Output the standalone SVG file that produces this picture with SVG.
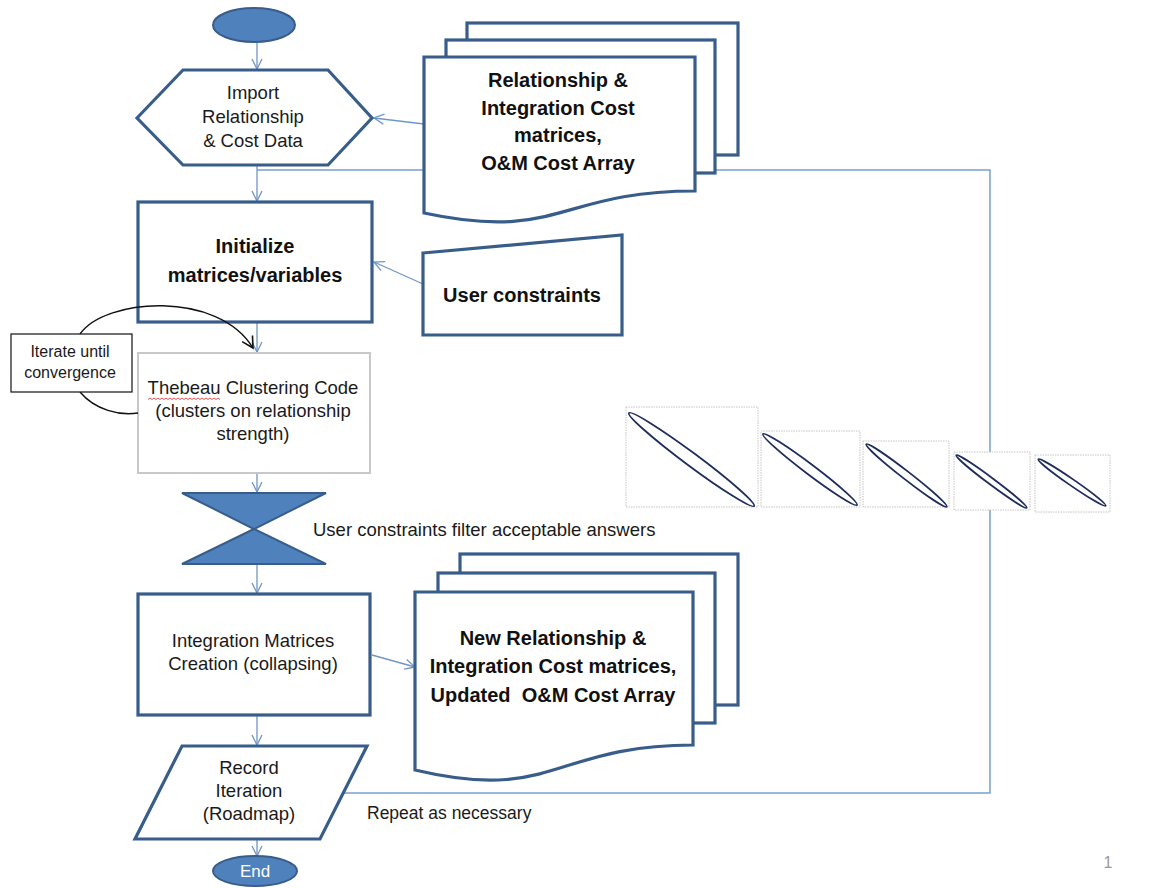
<svg xmlns="http://www.w3.org/2000/svg" width="1149" height="888" viewBox="0 0 1149 888">
<style>
.shape{fill:#fff;stroke:#385d8a;stroke-width:3.2;stroke-linejoin:miter}
.fillb{fill:#4f81bd;stroke:#385d8a;stroke-width:2}
.conn{fill:none;stroke:#6f96c8;stroke-width:1.3}
.loop{fill:none;stroke:#7aa0d0;stroke-width:1.5}
.t{font-family:"Liberation Sans",Arial,sans-serif;font-size:18.5px;fill:#1a1a1a;text-anchor:middle}
.b{font-weight:bold;font-size:20px;fill:#111}
.thumb{fill:#fff;stroke:#c4c4c4;stroke-width:1;stroke-dasharray:1.5 1}
.diag{fill:none;stroke:#1f2d5c;stroke-width:1.8}
</style>
<defs>
<marker id="arr" viewBox="0 0 12 12" refX="11" refY="6" markerWidth="12" markerHeight="12" markerUnits="userSpaceOnUse" orient="auto">
<path d="M1,1 L11,6 L1,11" fill="none" stroke="#6f96c8" stroke-width="1.3"/>
</marker>
<marker id="arrk" viewBox="0 0 14 14" refX="12" refY="7" markerWidth="14" markerHeight="14" markerUnits="userSpaceOnUse" orient="auto">
<path d="M1,1 L12,7 L1,13" fill="none" stroke="#111" stroke-width="1.6"/>
</marker>
</defs>
<rect width="1149" height="888" fill="#fff"/>

<g id="connectors">
<polyline class="loop" points="343,793 990,793 990,170 257,170"/>
<line class="conn" x1="257" y1="42" x2="257" y2="69" marker-end="url(#arr)"/>
<line class="conn" x1="257" y1="166" x2="257" y2="201" marker-end="url(#arr)"/>
<line class="conn" x1="424" y1="124" x2="374" y2="118" marker-end="url(#arr)"/>
<line class="conn" x1="423" y1="284" x2="374" y2="262" marker-end="url(#arr)"/>
<line class="conn" x1="257" y1="323" x2="257" y2="352" marker-end="url(#arr)"/>
<line class="conn" x1="257" y1="474" x2="257" y2="492" marker-end="url(#arr)"/>
<line class="conn" x1="257" y1="565" x2="257" y2="593" marker-end="url(#arr)"/>
<line class="conn" x1="372" y1="655" x2="415" y2="667" marker-end="url(#arr)"/>
<line class="conn" x1="257" y1="716" x2="257" y2="745" marker-end="url(#arr)"/>
<line class="conn" x1="257" y1="840" x2="257" y2="856" marker-end="url(#arr)"/>
</g>

<g id="thumbnails">
<rect class="thumb" x="626" y="407" width="132" height="100"/>
<ellipse class="diag" cx="691.5" cy="459.5" rx="78" ry="6.5" transform="rotate(36.65 691.5 459.5)"/>
<rect class="thumb" x="761" y="431" width="99" height="76"/>
<ellipse class="diag" cx="810" cy="469.5" rx="59" ry="5" transform="rotate(37.06 810 469.5)"/>
<rect class="thumb" x="863" y="441" width="86" height="66"/>
<ellipse class="diag" cx="906.5" cy="475.5" rx="51" ry="4" transform="rotate(37.87 906.5 475.5)"/>
<rect class="thumb" x="954" y="452" width="76" height="58" stroke="#e0e0e0"/>
<ellipse class="diag" cx="991.5" cy="481.5" rx="44" ry="3.2" transform="rotate(36.74 991.5 481.5)"/>
<rect class="thumb" x="1035" y="455" width="75" height="57" stroke="#e6e6e6"/>
<ellipse class="diag" cx="1072" cy="482.5" rx="41" ry="3.2" transform="rotate(34.65 1072 482.5)"/>
</g>

<g id="start">
<ellipse class="fillb" cx="254" cy="25" rx="41" ry="17"/>
</g>

<g id="import">
<polygon class="shape" points="137,118 183,70 328,70 372,118 328,165 183,165"/>
<text class="t" x="253" y="99">Import</text>
<text class="t" x="253" y="123">Relationship</text>
<text class="t" x="253" y="147">&amp; Cost Data</text>
</g>

<g id="docs-top">
<rect class="shape" x="467" y="23" width="271" height="132"/>
<rect class="shape" x="446" y="40" width="269" height="133"/>
<path class="shape" d="M424,57 H695 V191 C559.5,191 559.5,242 424,213 Z"/>
<text class="t b" x="558" y="87">Relationship &amp;</text>
<text class="t b" x="558" y="115">Integration Cost</text>
<text class="t b" x="558" y="142">matrices,</text>
<text class="t b" x="558" y="170">O&amp;M Cost Array</text>
</g>

<g id="initialize">
<rect class="shape" x="138" y="202" width="234" height="120"/>
<text class="t b" x="255" y="253">Initialize</text>
<text class="t b" x="255" y="282">matrices/variables</text>
</g>

<g id="user-constraints">
<polygon class="shape" points="423,253 622,235 622,335 423,335"/>
<text class="t b" x="522" y="302">User constraints</text>
</g>

<g id="thebeau">
<rect x="138" y="353" width="232" height="120" fill="#fff" stroke="#c8c8c8" stroke-width="2"/>
<text class="t" x="253" y="394">Thebeau Clustering Code</text>
<text class="t" x="253" y="417">(clusters on relationship</text>
<text class="t" x="253" y="440">strength)</text>
<path d="M148,399.5 l2,-1.5 l2,1.5 l2,-1.5 l2,1.5 l2,-1.5 l2,1.5 l2,-1.5 l2,1.5 l2,-1.5 l2,1.5 l2,-1.5 l2,1.5 l2,-1.5 l2,1.5 l2,-1.5 l2,1.5 l2,-1.5 l2,1.5 l2,-1.5 l2,1.5 l2,-1.5 l2,1.5 l2,-1.5 l2,1.5 l2,-1.5 l2,1.5 l2,-1.5 l2,1.5 l2,-1.5 l2,1.5 l2,-1.5 l2,1.5 l2,-1.5 l2,1.5 l2,-1.5 l2,1.5" fill="none" stroke="#e04040" stroke-width="0.9"/>
</g>

<g id="iterate-loop">
<path d="M80,334 C105,298 218,290 253,348" fill="none" stroke="#111" stroke-width="1.4" marker-end="url(#arrk)"/>
<path d="M80,392 C95,410 120,416 138,413" fill="none" stroke="#111" stroke-width="1.4"/>
</g>

<g id="iterate">
<rect x="11" y="334" width="121" height="58" fill="#fff" stroke="#111" stroke-width="1.2"/>
<text class="t" x="70" y="357" style="font-size:16px">Iterate until</text>
<text class="t" x="70" y="378" style="font-size:16px">convergence</text>
</g>

<g id="filter">
<polygon class="fillb" points="182,493 326,493 254,529 326,564 182,564 254,529"/>
<text class="t" x="313" y="536" style="text-anchor:start">User constraints filter acceptable answers</text>
</g>

<g id="integration">
<rect class="shape" x="138" y="594" width="232" height="121"/>
<text class="t" x="253" y="647">Integration Matrices</text>
<text class="t" x="253" y="670">Creation (collapsing)</text>
</g>

<g id="docs-bottom">
<rect class="shape" x="460" y="554" width="278" height="151"/>
<rect class="shape" x="438" y="573" width="277" height="150"/>
<path class="shape" d="M415,592 H693 V745 C554,745 554,803 415,770 Z"/>
<text class="t b" x="553" y="645">New Relationship &amp;</text>
<text class="t b" x="553" y="673">Integration Cost matrices,</text>
<text class="t b" x="553" y="702">Updated&#160; O&amp;M Cost Array</text>
</g>

<g id="record">
<polygon class="shape" points="182,746 367,746 320,839 135,839"/>
<text class="t" x="249" y="774">Record</text>
<text class="t" x="249" y="797">Iteration</text>
<text class="t" x="249" y="820">(Roadmap)</text>
</g>

<g id="repeat-label">
<text class="t" x="367" y="819" style="text-anchor:start;font-size:17.5px">Repeat as necessary</text>
</g>

<g id="end">
<ellipse class="fillb" cx="255" cy="871" rx="42" ry="15"/>
<text class="t" x="255" y="877" style="fill:#fff;font-size:17px">End</text>
</g>

<text class="t" x="1108" y="868" style="font-size:16px;fill:#999">1</text>
</svg>
